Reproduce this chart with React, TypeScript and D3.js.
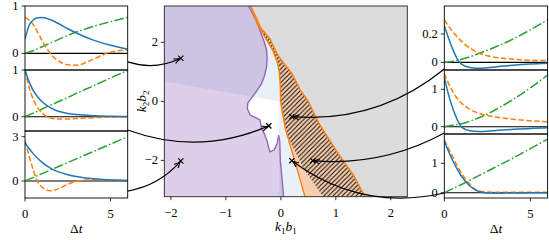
import React from "react";
import * as d3 from "d3";

// time axis shared by the six small panels
const dt = [0, 0.25, 0.5, 0.75, 1, 1.5, 2, 2.5, 3, 4, 5, 6];

// left column, top to bottom
const l1Blue = [0.3, 0.6, 0.71, 0.75, 0.76, 0.71, 0.62, 0.52, 0.43, 0.28, 0.17, 0.09];
const l1Orange = [0.76, 0.7, 0.6, 0.44, 0.27, -0.01, -0.17, -0.24, -0.25, -0.12, 0.03, 0.07];
const l1Green = [0, 0.03, 0.06, 0.1, 0.14, 0.22, 0.3, 0.38, 0.45, 0.57, 0.67, 0.76];

const l2Blue = [1.0, 0.74, 0.55, 0.42, 0.32, 0.19, 0.11, 0.07, 0.045, 0.02, 0.01, 0.005];
const l2Orange = [1.0, 0.62, 0.36, 0.19, 0.08, -0.03, -0.05, -0.05, -0.04, -0.02, -0.01, 0];
const l2Green = [0, 0.04, 0.08, 0.12, 0.165, 0.25, 0.33, 0.41, 0.5, 0.66, 0.83, 0.99];

const l3Blue = [2.6, 2.18, 1.82, 1.52, 1.26, 0.86, 0.6, 0.43, 0.3, 0.15, 0.08, 0.04];
const l3Orange = [2.75, 1.65, 0.7, -0.08, -0.42, -0.66, -0.5, -0.22, -0.02, 0.1, 0.06, 0.03];
const l3Green = [0, 0.125, 0.25, 0.375, 0.5, 0.75, 1.0, 1.25, 1.5, 2.0, 2.5, 3.0];

// right column, top to bottom
const r1Blue = [0.26, 0.17, 0.09, 0.025, -0.012, -0.036, -0.042, -0.038, -0.032, -0.02, -0.012, -0.007];
const r1Orange = [0.3, 0.255, 0.215, 0.18, 0.148, 0.1, 0.066, 0.047, 0.035, 0.022, 0.015, 0.012];
const r1Green = [0, 0.003, 0.008, 0.014, 0.022, 0.04, 0.062, 0.085, 0.11, 0.165, 0.23, 0.3];

const r2Blue = [1.32, 0.85, 0.48, 0.19, -0.01, -0.11, -0.13, -0.12, -0.1, -0.07, -0.045, -0.03];
const r2Orange = [1.42, 1.15, 0.93, 0.76, 0.63, 0.46, 0.36, 0.3, 0.26, 0.2, 0.16, 0.13];
const r2Green = [0, 0.02, 0.04, 0.06, 0.08, 0.15, 0.24, 0.34, 0.46, 0.73, 1.04, 1.38];

const r3Blue = [1.75, 1.4, 1.08, 0.8, 0.56, 0.22, 0.04, -0.01, -0.015, -0.01, -0.005, 0];
const r3Orange = [1.8, 1.5, 1.2, 0.92, 0.66, 0.28, 0.06, 0.02, 0.015, 0.015, 0.015, 0.015];
const r3Green = [0, 0.07, 0.14, 0.21, 0.28, 0.43, 0.58, 0.73, 0.88, 1.18, 1.5, 1.82];

const leftYTicks = [[0, 1], [0, 1], [0, 3]];
const rightYTicks = [[0, 0.2], [0, 1], [0, 1]];
const dtTicks = [0, 5];
const leftYLim = [[-0.35, 1.0], [-0.306, 1.0], [-1.15, 3.385]];
const rightYLim = [[-0.054, 0.398], [-0.195, 1.516], [-0.18, 1.997]];

// central map (k1b1, k2b2)
const kbXLim = [-2.12, 2.3];
const kbYLim = [-3.23, 3.23];
const kbXTicks = [-2, -1, 0, 1, 2];
const kbYTicks = [-2, 0, 2];

const blueEdgeX = [-2.12, -0.03, -0.03];
const blueEdgeY = [0.67, 0.0, -3.23];

const purpleX = [-0.59, -0.45, -0.37, -0.3, -0.26, -0.25, -0.26, -0.3, -0.35, -0.44, -0.53, -0.6, -0.61, -0.56, -0.45, -0.38, -0.35, -0.3, -0.25, -0.2, -0.12, -0.07, -0.04, -0.02, -0.01, 0.02, 0.05];
const purpleY = [3.23, 2.75, 2.35, 2.0, 1.74, 1.45, 1.17, 0.85, 0.61, 0.35, 0.12, -0.05, -0.24, -0.46, -0.56, -0.63, -0.91, -1.1, -1.35, -1.71, -1.64, -1.45, -1.14, -1.35, -2.0, -2.6, -3.23];

const outerX = [-0.55, -0.45, -0.37, -0.2, -0.05, 0.05, 0.2, 0.35, 0.5, 0.6, 0.71, 1.02, 1.32, 1.53];
const outerY = [3.23, 2.85, 2.5, 2.12, 1.55, 1.3, 0.95, 0.4, 0.0, -0.4, -0.8, -1.7, -2.5, -3.23];

const innerX = [-0.55, -0.42, -0.26, -0.14, -0.06, -0.03, -0.01, -0.005, 0.03, 0.08, 0.17, 0.26, 0.35, 0.44];
const innerY = [3.23, 2.6, 2.08, 1.7, 1.3, 1.0, 0.5, 0.0, -0.4, -0.91, -1.5, -2.05, -2.65, -3.23];

const hatchEdgeX = [0.1, 0.41, 0.77];
const hatchEdgeY = [-1.1, -2.27, -3.23];

// crosses and the panel each one is linked to
const crossX = [-1.82, -0.22, -1.82, 0.2, 0.58, 0.2];
const crossY = [1.46, -0.83, -2.02, -0.52, -2.01, -2.01];
const anchorY = [-0.18, -0.285, -0.68, -0.047, -0.17, -0.01];
const curveRad = [0.2, 0.2, 0.18, -0.2, -0.15, -0.23];

const BLUE = "#1f77b4";
const ORANGE = "#ff7f0e";
const GREEN = "#2ca02c";
const FONT = "Liberation Serif, DejaVu Serif, serif";
const FS = 12.5;

type P = [number, number];

const leftCol = [25, 127.7];
const rightCol = [444.3, 547.6];
const leftRows = [[6, 70], [70, 131], [131, 198]];
const rightRows = [[6, 70], [70, 134], [134, 198]];

function fmt(v: number) {
  return v < 0 ? "\u2212" + Math.abs(v) : String(v);
}

function Panel(props: any) {
  const { id, col, row, ylim, ticks, blue, orange, green, bottom } = props;
  const x = d3.scaleLinear().domain([0, 6]).range(col);
  const y = d3.scaleLinear().domain(ylim).range([row[1], row[0]]);
  const line = d3
    .line<number>()
    .x((_, i) => x(dt[i]))
    .y((d) => y(d))
    .curve(d3.curveMonotoneX);
  return (
    <g>
      <defs>
        <clipPath id={id}>
          <rect x={col[0]} y={row[0]} width={col[1] - col[0]} height={row[1] - row[0]} />
        </clipPath>
      </defs>
      <g clipPath={`url(#${id})`}>
        <line x1={col[0]} x2={col[1]} y1={y(0)} y2={y(0)} stroke="#000" strokeWidth={1.1} />
        <path d={line(green) || ""} fill="none" stroke={GREEN} strokeWidth={1.5} strokeDasharray="9.6,2.4,1.5,2.4" />
        <path d={line(orange) || ""} fill="none" stroke={ORANGE} strokeWidth={1.5} strokeDasharray="5.5,2.4" />
        <path d={line(blue) || ""} fill="none" stroke={BLUE} strokeWidth={1.5} />
      </g>
      <rect x={col[0]} y={row[0]} width={col[1] - col[0]} height={row[1] - row[0]} fill="none" stroke="#000" strokeWidth={0.9} />
      {ticks.map((t: number) => (
        <g key={t}>
          <line x1={col[0] - 3.5} x2={col[0]} y1={y(t)} y2={y(t)} stroke="#000" strokeWidth={0.8} />
          <text x={col[0] - 6.5} y={y(t)} textAnchor="end" dominantBaseline="central" fontFamily={FONT} fontSize={FS}>
            {fmt(t)}
          </text>
        </g>
      ))}
      {bottom &&
        dtTicks.map((t) => (
          <g key={"x" + t}>
            <line x1={x(t)} x2={x(t)} y1={row[1]} y2={row[1] + 3.5} stroke="#000" strokeWidth={0.8} />
            <text x={x(t)} y={row[1] + 15.5} textAnchor="middle" dominantBaseline="central" fontFamily={FONT} fontSize={FS}>
              {fmt(t)}
            </text>
          </g>
        ))}
      {bottom && (
        <text x={(col[0] + col[1]) / 2} y={233} textAnchor="middle" fontFamily={FONT} fontSize={FS + 1}>
          {"\u0394"}
          <tspan fontStyle="italic">t</tspan>
        </text>
      )}
    </g>
  );
}

export default function App() {
  const cx = d3.scaleLinear().domain(kbXLim).range([164.3, 407.3]);
  const cy = d3.scaleLinear().domain(kbYLim).range([196.7, 6]);
  const pts = (xs: number[], ys: number[]): P[] => xs.map((v, i) => [cx(v), cy(ys[i])]);
  const poly = (p: P[]) => (d3.line()(p) || "") + "Z";
  const open = (p: P[]) => d3.line()(p) || "";

  const [x0, x1] = kbXLim;
  const [y0, y1] = kbYLim;
  const outer = pts(outerX, outerY);
  const inner = pts(innerX, innerY);
  const purple = pts(purpleX, purpleY);

  const bluePoly = [...pts(blueEdgeX, blueEdgeY), ...pts([x1, x1, x0], [y0, y1, y1])];
  const purplePoly = [...pts([x0], [y1]), ...purple, ...pts([x0], [y0])];
  const grayPoly = [...outer, ...pts([x1, x1], [y0, y1])];
  const orangePoly = [...outer, ...inner.slice().reverse()];
  const innerUpper = inner.filter((_, i) => innerY[i] > -1.0).reverse();
  const hatchPoly = [...outer, ...pts(hatchEdgeX, hatchEdgeY).reverse(), ...innerUpper];

  const cols = [leftCol, leftCol, leftCol, rightCol, rightCol, rightCol];
  const rows = [...leftRows, ...rightRows];
  const ylims = [...leftYLim, ...rightYLim];

  const arrows = crossX.map((cxv, i) => {
    const left = i < 3;
    const px = d3.scaleLinear().domain([0, 6]).range(cols[i]);
    const py = d3.scaleLinear().domain(ylims[i]).range([rows[i][1], rows[i][0]]);
    const a: P = [px(left ? 6 : 0), py(anchorY[i])];
    const b: P = [cx(cxv), cy(crossY[i])];
    const dx = b[0] - a[0];
    const dy = b[1] - a[1];
    const c: P = [(a[0] + b[0]) / 2 - curveRad[i] * dy, (a[1] + b[1]) / 2 + curveRad[i] * dx];
    const ux = b[0] - c[0];
    const uy = b[1] - c[1];
    const n = Math.hypot(ux, uy);
    const ex = ux / n;
    const ey = uy / n;
    const hl = 5.5;
    const hw = 2.6;
    const tip: P = [b[0] - ex * 1.5, b[1] - ey * 1.5];
    const head = `M${tip[0] - ex * hl - ey * hw},${tip[1] - ey * hl + ex * hw}L${tip[0]},${tip[1]}L${tip[0] - ex * hl + ey * hw},${tip[1] - ey * hl - ex * hw}`;
    return { d: `M${a[0]},${a[1]}Q${c[0]},${c[1]} ${b[0]},${b[1]}`, head, b };
  });

  const series = [
    [l1Blue, l1Orange, l1Green],
    [l2Blue, l2Orange, l2Green],
    [l3Blue, l3Orange, l3Green],
    [r1Blue, r1Orange, r1Green],
    [r2Blue, r2Orange, r2Green],
    [r3Blue, r3Orange, r3Green],
  ];
  const allTicks = [...leftYTicks, ...rightYTicks];

  return (
    <svg width={549} height={240} style={{ position: "absolute", left: 0, top: 0, background: "#fff" }}>
      <defs>
        <clipPath id="mapclip">
          <rect x={164.3} y={6} width={243} height={190.7} />
        </clipPath>
        <pattern id="hatch" width={4.6} height={4.6} patternUnits="userSpaceOnUse">
          <path d="M0,4.6L4.6,0M-1,1L1,-1M3.6,5.6L5.6,3.6" stroke="#111" strokeWidth={1.1} />
        </pattern>
      </defs>

      <g clipPath="url(#mapclip)">
        <rect x={164.3} y={6} width={243} height={190.7} fill="#fff" />
        <path d={poly(bluePoly)} fill="rgba(31,119,180,0.1)" />
        <path d={poly(purplePoly)} fill="rgba(148,103,189,0.32)" />
        <path d={poly(grayPoly)} fill="#dcdcdc" />
        <path d={poly(orangePoly)} fill="#f8cfac" />
        <path d={poly(hatchPoly)} fill="url(#hatch)" />
        <path d={open(purple)} fill="none" stroke="#9467bd" strokeWidth={1.4} />
        <path d={open(inner)} fill="none" stroke={ORANGE} strokeWidth={1.4} />
        <path d={open(outer)} fill="none" stroke={ORANGE} strokeWidth={1.4} />
      </g>
      <rect x={164.3} y={6} width={243} height={190.7} fill="none" stroke="#222" strokeWidth={0.9} />

      {kbXTicks.map((t) => (
        <g key={"cx" + t}>
          <line x1={cx(t)} x2={cx(t)} y1={196.7} y2={200.2} stroke="#000" strokeWidth={0.8} />
          <text x={cx(t)} y={212.7} textAnchor="middle" dominantBaseline="central" fontFamily={FONT} fontSize={FS}>
            {fmt(t)}
          </text>
        </g>
      ))}
      {kbYTicks.map((t) => (
        <g key={"cy" + t}>
          <line x1={160.8} x2={164.3} y1={cy(t)} y2={cy(t)} stroke="#000" strokeWidth={0.8} />
          <text x={158} y={cy(t)} textAnchor="end" dominantBaseline="central" fontFamily={FONT} fontSize={FS}>
            {fmt(t)}
          </text>
        </g>
      ))}
      <text x={285.8} y={231} textAnchor="middle" fontFamily={FONT} fontSize={FS + 1}>
        <tspan fontStyle="italic">k</tspan>
        <tspan fontSize={9} dy={3}>1</tspan>
        <tspan fontStyle="italic" dy={-3}>b</tspan>
        <tspan fontSize={9} dy={3}>1</tspan>
      </text>
      <text transform={`translate(145.5,101.4) rotate(-90)`} textAnchor="middle" fontFamily={FONT} fontSize={FS + 1}>
        <tspan fontStyle="italic">k</tspan>
        <tspan fontSize={9} dy={3}>2</tspan>
        <tspan fontStyle="italic" dy={-3}>b</tspan>
        <tspan fontSize={9} dy={3}>2</tspan>
      </text>

      {series.map((s, i) => (
        <Panel
          key={i}
          id={"p" + i}
          col={cols[i]}
          row={rows[i]}
          ylim={ylims[i]}
          ticks={allTicks[i]}
          blue={s[0]}
          orange={s[1]}
          green={s[2]}
          bottom={i === 2 || i === 5}
        />
      ))}

      {arrows.map((a, i) => (
        <g key={"a" + i} fill="none" stroke="#000">
          <path d={a.d} strokeWidth={1.2} />
          <path d={a.head} strokeWidth={1.1} />
          <path d={`M${a.b[0] - 2.6},${a.b[1] - 2.6}L${a.b[0] + 2.6},${a.b[1] + 2.6}M${a.b[0] - 2.6},${a.b[1] + 2.6}L${a.b[0] + 2.6},${a.b[1] - 2.6}`} strokeWidth={1.2} />
        </g>
      ))}
    </svg>
  );
}
